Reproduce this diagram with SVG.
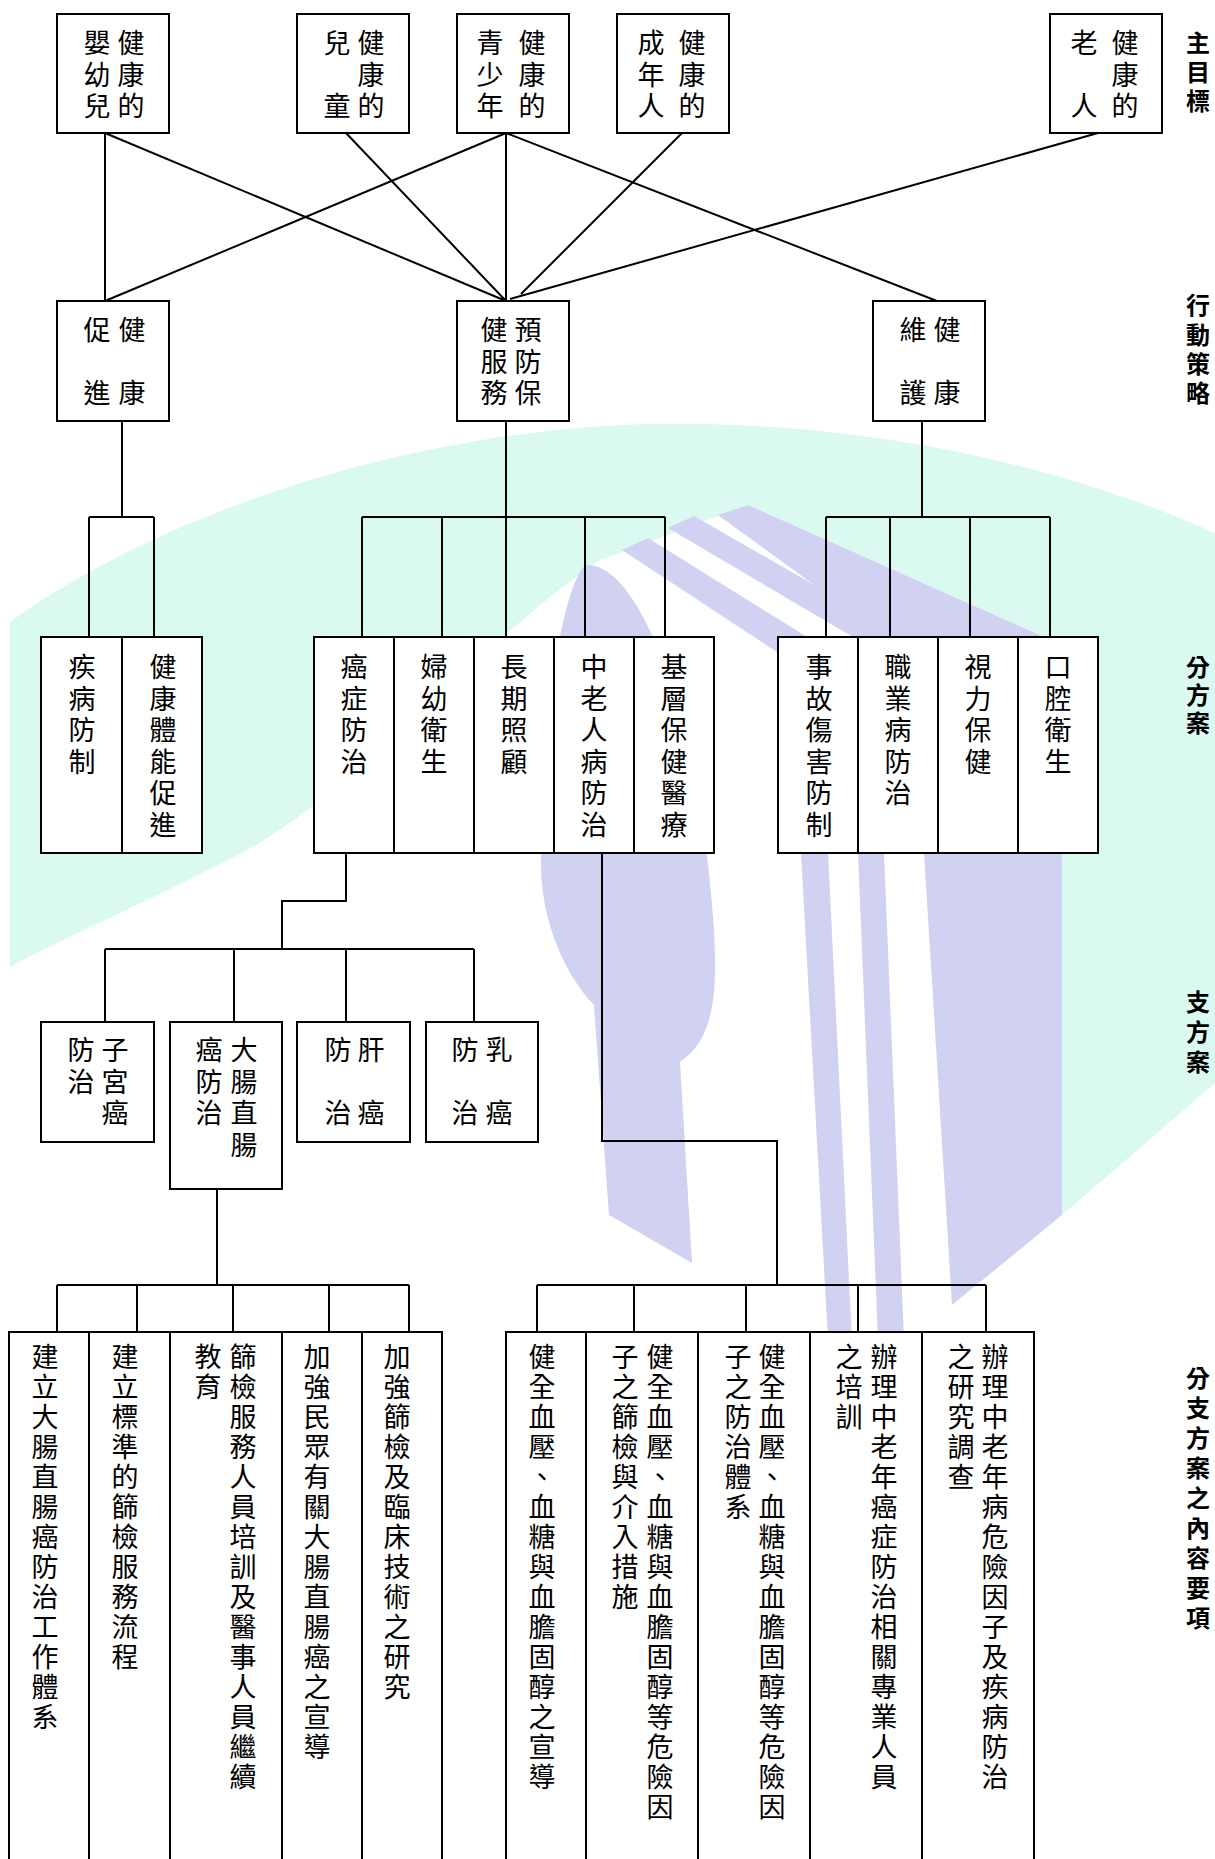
<svg xmlns="http://www.w3.org/2000/svg" width="1215" height="1859" viewBox="0 0 1215 1859">
<style>
.box{fill:#fff;stroke:#000;stroke-width:2}
.ln{stroke:#000;stroke-width:2;fill:none}
.t{font-family:'Noto Sans CJK TC','Noto Sans CJK SC',sans-serif;font-size:27px;text-anchor:middle;fill:#000}
.lb{font-family:'Noto Sans CJK TC','Noto Sans CJK SC',sans-serif;font-size:24px;font-weight:bold;text-anchor:middle;fill:#000}
.cy{fill:#d9f9f1}
.pu{fill:#d1d1f1}
</style>
<rect x="0" y="0" width="1215" height="1859" fill="#fff"/>
<g id="watermark">
<path class="cy" d="M10 622 C150 520 400 430 650 424 C850 420 1050 460 1215 533 L1215 1083 L1062 1215 L1062 645 L748 505 L600 560 C480 640 350 800 232 858 C150 900 60 940 10 967 Z"/>
<path class="pu" d="M585 565 C640 560 700 720 714 930 C718 1000 712 1040 680 1062 L692 1263 L609 1215 L594 1005 C565 975 540 920 541 860 C542 760 555 600 585 565 Z"/>
<path class="pu" d="M622 550 L648 538 L828 650 L828 853 L852 1340 L828 1340 L801 853 L801 668 Z"/>
<path class="pu" d="M668 528 L694 516 L884 625 L884 853 L904 1340 L878 1340 L858 853 L858 640 Z"/>
<path class="pu" d="M718 515 L748 505 L1062 645 L1062 1215 L952 1305 L924 853 L924 665 Z"/>
</g>
<g id="connectors" class="ln">
<path d="M105 133V301 M105 133L506 301 M346 133L506 301 M506 133L105 301 M506 133V301 M506 133L937 301 M682 133L521 294 M1098 133L510 299"/>
<path d="M122 421V517 M89 517H154 M89 517V637 M154 517V637"/>
<path d="M506 421V517 M362 517H665 M362 517V637 M442 517V637 M506 517V637 M585 517V637 M665 517V637"/>
<path d="M922 421V517 M826 517H1050 M826 517V637 M890 517V637 M970 517V637 M1050 517V637"/>
<path d="M346 853V901H282V949 M105 949H474 M105 949V1022 M234 949V1022 M346 949V1022 M474 949V1022"/>
<path d="M217 1189V1285 M57 1285H409 M57 1285V1332 M137 1285V1332 M233 1285V1332 M329 1285V1332 M409 1285V1332"/>
<path d="M602 853V1141H777V1285 M537 1285H986 M537 1285V1332 M634 1285V1332 M746 1285V1332 M858 1285V1332 M986 1285V1332"/>
</g>
<g id="labels">
<text class="lb" x="1198 1198 1198" y="52 81 110">主目標</text>
<text class="lb" x="1198 1198 1198 1198" y="314 344 373 402">行動策略</text>
<text class="lb" x="1198 1198 1198" y="676 704 732">分方案</text>
<text class="lb" x="1198 1198 1198" y="1011 1041 1071">支方案</text>
<text class="lb" x="1198 1198 1198 1198 1198 1198 1198 1198 1198" y="1387 1417 1447 1477 1507 1537 1567 1597 1627">分支方案之內容要項</text>
</g>
<g id="goal-infant"><rect class="box" x="57" y="14" width="112" height="119"/>
<text class="t" x="97 97 97" y="53 84.5 116">嬰幼兒</text><text class="t" x="131 131 131" y="53 84.5 116">健康的</text></g>
<g id="goal-child"><rect class="box" x="297" y="14" width="112" height="119"/>
<text class="t" x="337 337" y="53 116">兒童</text><text class="t" x="371 371 371" y="53 84.5 116">健康的</text></g>
<g id="goal-youth"><rect class="box" x="457" y="14" width="112" height="119"/>
<text class="t" x="490 490 490" y="53 84.5 116">青少年</text><text class="t" x="532 532 532" y="53 84.5 116">健康的</text></g>
<g id="goal-adult"><rect class="box" x="617" y="14" width="112" height="119"/>
<text class="t" x="651 651 651" y="53 84.5 116">成年人</text><text class="t" x="692 692 692" y="53 84.5 116">健康的</text></g>
<g id="goal-elder"><rect class="box" x="1050" y="14" width="112" height="119"/>
<text class="t" x="1084 1084" y="53 116">老人</text><text class="t" x="1125 1125 1125" y="53 84.5 116">健康的</text></g>
<g id="st-promote"><rect class="box" x="57" y="301" width="112" height="120"/>
<text class="t" x="97 97" y="340 403">促進</text><text class="t" x="132 132" y="340 403">健康</text></g>
<g id="st-prevent"><rect class="box" x="457" y="301" width="112" height="120"/>
<text class="t" x="494 494 494" y="340 372 403">健服務</text><text class="t" x="528 528 528" y="340 372 403">預防保</text></g>
<g id="st-protect"><rect class="box" x="873" y="301" width="112" height="120"/>
<text class="t" x="913 913" y="340 403">維護</text><text class="t" x="947 947" y="340 403">健康</text></g>
<g id="p-disease"><rect class="box" x="41" y="637" width="81" height="216"/>
<text class="t" x="82 82 82 82" y="677 708.5 740 771.5">疾病防制</text></g>
<g id="p-fitness"><rect class="box" x="122" y="637" width="80" height="216"/>
<text class="t" x="163 163 163 163 163 163" y="677 708.5 740 771.5 803 834.5">健康體能促進</text></g>
<g id="p-cancer"><rect class="box" x="314" y="637" width="80" height="216"/>
<text class="t" x="354 354 354 354" y="677 708.5 740 771.5">癌症防治</text></g>
<g id="p-women"><rect class="box" x="394" y="637" width="80" height="216"/>
<text class="t" x="434 434 434 434" y="677 708.5 740 771.5">婦幼衛生</text></g>
<g id="p-ltc"><rect class="box" x="474" y="637" width="80" height="216"/>
<text class="t" x="514 514 514 514" y="677 708.5 740 771.5">長期照顧</text></g>
<g id="p-chronic"><rect class="box" x="554" y="637" width="80" height="216"/>
<text class="t" x="594 594 594 594 594 594" y="677 708.5 740 771.5 803 834.5">中老人病防治</text></g>
<g id="p-primary"><rect class="box" x="634" y="637" width="80" height="216"/>
<text class="t" x="674 674 674 674 674 674" y="677 708.5 740 771.5 803 834.5">基層保健醫療</text></g>
<g id="p-injury"><rect class="box" x="778" y="637" width="80" height="216"/>
<text class="t" x="819 819 819 819 819 819" y="677 708.5 740 771.5 803 834.5">事故傷害防制</text></g>
<g id="p-occup"><rect class="box" x="858" y="637" width="80" height="216"/>
<text class="t" x="898 898 898 898 898" y="677 708.5 740 771.5 803">職業病防治</text></g>
<g id="p-vision"><rect class="box" x="938" y="637" width="80" height="216"/>
<text class="t" x="978 978 978 978" y="677 708.5 740 771.5">視力保健</text></g>
<g id="p-oral"><rect class="box" x="1018" y="637" width="80" height="216"/>
<text class="t" x="1058 1058 1058 1058" y="677 708.5 740 771.5">口腔衛生</text></g>
<g id="sp-cervical"><rect class="box" x="41" y="1022" width="113" height="120"/>
<text class="t" x="81 81" y="1060 1091.5">防治</text><text class="t" x="115 115 115" y="1060 1091.5 1123">子宮癌</text></g>
<g id="sp-colorectal"><rect class="box" x="170" y="1022" width="112" height="167"/>
<text class="t" x="209 209 209" y="1060 1091.5 1123">癌防治</text><text class="t" x="244 244 244 244" y="1060 1091.5 1123 1154.5">大腸直腸</text></g>
<g id="sp-liver"><rect class="box" x="297" y="1022" width="113" height="120"/>
<text class="t" x="338 338" y="1060 1123">防治</text><text class="t" x="371 371" y="1060 1123">肝癌</text></g>
<g id="sp-breast"><rect class="box" x="426" y="1022" width="112" height="120"/>
<text class="t" x="465 465" y="1060 1123">防治</text><text class="t" x="499 499" y="1060 1123">乳癌</text></g>
<g id="c1"><rect class="box" x="9" y="1332" width="80" height="560"/>
<text class="t" x="45 45 45 45 45 45 45 45 45 45 45 45 45" y="1367 1397 1427 1457 1487 1517 1547 1577 1607 1637 1667 1697 1727">建立大腸直腸癌防治工作體系</text></g>
<g id="c2"><rect class="box" x="89" y="1332" width="81" height="560"/>
<text class="t" x="125 125 125 125 125 125 125 125 125 125 125" y="1367 1397 1427 1457 1487 1517 1547 1577 1607 1637 1667">建立標準的篩檢服務流程</text></g>
<g id="c3"><rect class="box" x="170" y="1332" width="112" height="560"/>
<text class="t" x="243 243 243 243 243 243 243 243 243 243 243 243 243 243 243" y="1367 1397 1427 1457 1487 1517 1547 1577 1607 1637 1667 1697 1727 1757 1787">篩檢服務人員培訓及醫事人員繼續</text>
<text class="t" x="208 208" y="1367 1397">教育</text></g>
<g id="c4"><rect class="box" x="282" y="1332" width="80" height="560"/>
<text class="t" x="317 317 317 317 317 317 317 317 317 317 317 317 317 317" y="1367 1397 1427 1457 1487 1517 1547 1577 1607 1637 1667 1697 1727 1757">加強民眾有關大腸直腸癌之宣導</text></g>
<g id="c5"><rect class="box" x="362" y="1332" width="80" height="560"/>
<text class="t" x="397 397 397 397 397 397 397 397 397 397 397 397" y="1367 1397 1427 1457 1487 1517 1547 1577 1607 1637 1667 1697">加強篩檢及臨床技術之研究</text></g>
<g id="c6"><rect class="box" x="506" y="1332" width="80" height="560"/>
<text class="t" x="542 542 542 542 542 542 542 542 542 542 542 542 542 542 542" y="1367 1397 1427 1457 1487 1517 1547 1577 1607 1637 1667 1697 1727 1757 1787">健全血壓、血糖與血膽固醇之宣導</text></g>
<g id="c7"><rect class="box" x="586" y="1332" width="112" height="560"/>
<text class="t" x="660 660 660 660 660 660 660 660 660 660 660 660 660 660 660 660" y="1367 1397 1427 1457 1487 1517 1547 1577 1607 1637 1667 1697 1727 1757 1787 1817">健全血壓、血糖與血膽固醇等危險因</text>
<text class="t" x="625 625 625 625 625 625 625 625 625" y="1367 1397 1427 1457 1487 1517 1547 1577 1607">子之篩檢與介入措施</text></g>
<g id="c8"><rect class="box" x="698" y="1332" width="112" height="560"/>
<text class="t" x="772 772 772 772 772 772 772 772 772 772 772 772 772 772 772 772" y="1367 1397 1427 1457 1487 1517 1547 1577 1607 1637 1667 1697 1727 1757 1787 1817">健全血壓、血糖與血膽固醇等危險因</text>
<text class="t" x="738 738 738 738 738 738" y="1367 1397 1427 1457 1487 1517">子之防治體系</text></g>
<g id="c9"><rect class="box" x="810" y="1332" width="112" height="560"/>
<text class="t" x="884 884 884 884 884 884 884 884 884 884 884 884 884 884 884" y="1367 1397 1427 1457 1487 1517 1547 1577 1607 1637 1667 1697 1727 1757 1787">辦理中老年癌症防治相關專業人員</text>
<text class="t" x="849 849 849" y="1367 1397 1427">之培訓</text></g>
<g id="c10"><rect class="box" x="922" y="1332" width="112" height="560"/>
<text class="t" x="995 995 995 995 995 995 995 995 995 995 995 995 995 995 995" y="1367 1397 1427 1457 1487 1517 1547 1577 1607 1637 1667 1697 1727 1757 1787">辦理中老年病危險因子及疾病防治</text>
<text class="t" x="961 961 961 961 961" y="1367 1397 1427 1457 1487">之研究調查</text></g>
</svg>
